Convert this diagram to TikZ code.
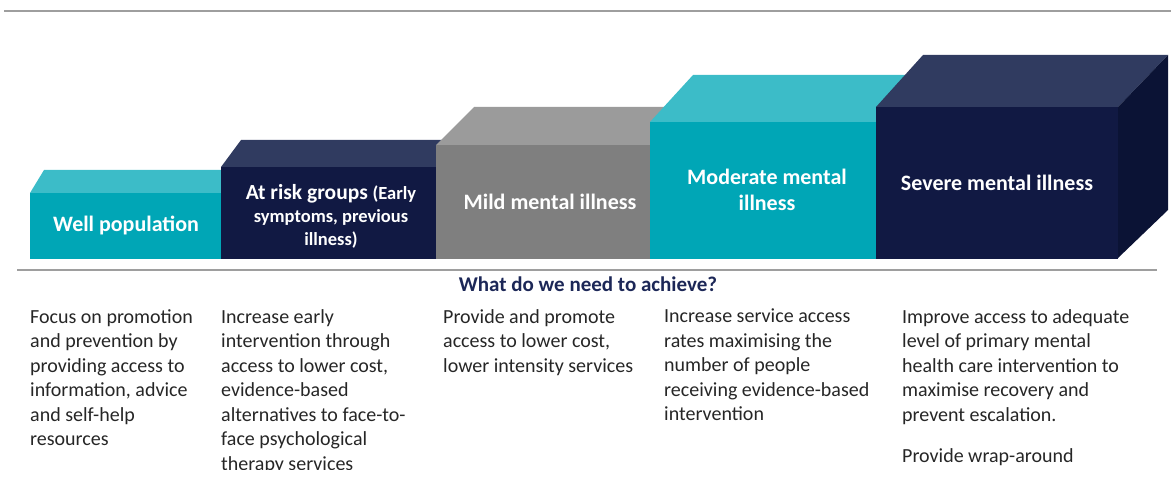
\documentclass[tikz,border=0pt]{standalone}
\usepackage{fontspec}
\setmainfont{Carlito}
\definecolor{tealF}{HTML}{00A6B6}
\definecolor{tealT}{HTML}{3CBCC8}
\definecolor{navyF}{HTML}{111943}
\definecolor{navyT}{HTML}{303B60}
\definecolor{navyS}{HTML}{0B1335}
\definecolor{grayF}{HTML}{7F7F7F}
\definecolor{grayT}{HTML}{9B9B9B}
\definecolor{rule}{HTML}{9E9E9E}
\definecolor{head}{HTML}{1C2757}
\definecolor{body}{HTML}{262626}
\begin{document}
\begin{tikzpicture}[x=1pt,y=-1pt,
  boxlabel/.style={text=white,font=\fontsize{22}{26}\selectfont\bfseries,align=center,inner sep=0},
  bodytext/.style={text=body,font=\fontsize{20}{24.5}\selectfont,align=left,anchor=north west,inner sep=0},
  rulestyle/.style={draw=rule,line width=1.6pt}]
\useasboundingbox (0,0) rectangle (1171,500);
\begin{scope}
\clip (0,0) rectangle (1171,469);
% top rule
\draw[rulestyle,line width=1.2pt] (4,11) -- (1171,11);
% Well population
\fill[tealT] (30,193) -- (44,170) -- (240,170) -- (221,193) -- cycle;
\fill[tealF] (30,193) rectangle (221,259);
% At risk
\fill[navyT] (221,167) -- (241,140) -- (456,140) -- (436,167) -- cycle;
\fill[navyF] (221,167) rectangle (436,259);
% Mild
\fill[grayT] (436,145) -- (474,107) -- (688,107) -- (650,145) -- cycle;
\fill[grayF] (436,145) rectangle (650,259);
% Moderate
\fill[tealT] (650,122) -- (693,75) -- (920,75) -- (876,122) -- cycle;
\fill[tealF] (650,122) rectangle (876,259);
% Severe
\fill[navyT] (876,107) -- (923,55) -- (1168,55) -- (1118,107) -- cycle;
\fill[navyS] (1118,107) -- (1168,55) -- (1168,210) -- (1118,258) -- cycle;
\fill[navyF] (876,107) rectangle (1118,259);
% labels
\node[boxlabel] (well) at (126,225) {Well population};
\node[boxlabel,font=\fontsize{21.5}{24}\selectfont\bfseries] (risk) at (331,216.5)
  {At risk groups {\fontsize{18.5}{24}\selectfont(Early}\\[-1pt]
   {\fontsize{18.5}{24}\selectfont symptoms, previous}\\[-1pt]
   {\fontsize{18.5}{24}\selectfont illness)}};
\node[boxlabel] (mild) at (550,202) {Mild mental illness};
\node[boxlabel] (mod) at (767,190) {Moderate mental\\illness};
\node[boxlabel] (sev) at (997,183) {Severe mental illness};
% second rule
\draw[rulestyle] (17,270) -- (1157,270);
\node[text=head,font=\fontsize{21}{24}\selectfont\bfseries,inner sep=0] (heading) at (588,284) {What do we need to achieve?};
% body
\node[bodytext] (c1) at (30,309) {Focus on promotion\\and prevention by\\providing access to\\information, advice\\and self-help\\resources};
\node[bodytext] (c2) at (221,309) {Increase early\\intervention through\\access to lower cost,\\evidence-based\\alternatives to face-to-\\face psychological\\therapy services};
\node[bodytext] (c3) at (443,309) {Provide and promote\\access to lower cost,\\lower intensity services};
\node[bodytext] (c4) at (664,309) {Increase service access\\rates maximising the\\number of people\\receiving evidence-based\\intervention};
\node[bodytext] (c5) at (902,309) {Improve access to adequate\\level of primary mental\\health care intervention to\\maximise recovery and\\prevent escalation.\\[17pt]Provide wrap-around};
\end{scope}
\end{tikzpicture}
\end{document}
